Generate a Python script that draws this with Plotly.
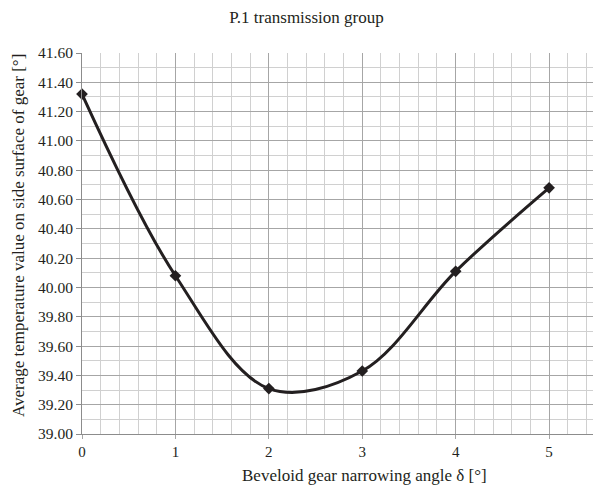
import plotly.graph_objects as go

x_vals = [0, 1, 2, 3, 4, 5]
temps = [41.32, 40.08, 39.31, 39.43, 40.11, 40.68]
y_ticks = [39.0, 39.2, 39.4, 39.6, 39.8, 40.0, 40.2, 40.4, 40.6, 40.8, 41.0, 41.2, 41.4, 41.6]
x_ticks = [0, 1, 2, 3, 4, 5]

font = "Liberation Serif"
txt = "#231f20"

W, H = 593, 485
L, R, T, B = 82, 0, 53, 51

fig = go.Figure()
fig.add_trace(go.Scatter(
    x=x_vals, y=temps, mode="lines+markers",
    line=dict(color=txt, width=3, shape="spline", smoothing=1.0),
    marker=dict(symbol="diamond", size=9, color=txt),
    showlegend=False, cliponaxis=False, hoverinfo="skip",
))

fig.update_layout(
    width=W, height=H,
    margin=dict(l=L, r=R, t=T, b=B),
    paper_bgcolor="white", plot_bgcolor="white",
    font=dict(family=font, color=txt),
    title=dict(text="P.1 transmission group", x=306.5 / W, xanchor="center", xref="container",
               y=1 - 17 / H, yanchor="middle", yref="container",
               font=dict(size=17, family=font, color=txt)),
)
pw = W - L - R
ph = H - T - B
fig.add_annotation(
    text="Average temperature value on side surface of gear [°]",
    textangle=-90, xref="paper", yref="paper",
    x=(18 - L) / pw, y=(H - B - 236) / ph, xanchor="center", yanchor="middle",
    showarrow=False, font=dict(size=17, family=font, color=txt),
)
fig.add_annotation(
    text="Beveloid gear narrowing angle δ [°]",
    xref="paper", yref="paper",
    x=(364.5 - L) / pw, y=-(475 - (H - B)) / ph, xanchor="center", yanchor="middle",
    showarrow=False, font=dict(size=17, family=font, color=txt),
)
fig.update_xaxes(
    range=[0, 5.47], tickvals=x_ticks, ticktext=[str(v) for v in x_ticks],
    showgrid=True, gridcolor="#a6a6a6", gridwidth=1,
    minor=dict(dtick=0.2, tick0=0, showgrid=True, gridcolor="#d0d0d0", gridwidth=1),
    showline=True, linecolor="#8c8c8c", linewidth=1,
    ticks="outside", ticklen=4, tickcolor="#a6a6a6",
    zeroline=False, automargin=False,
    tickfont=dict(size=15, family=font, color=txt),
)
fig.update_yaxes(
    range=[39.0, 41.6], tickvals=y_ticks, ticktext=[f"{v:.2f}" for v in y_ticks],
    showgrid=True, gridcolor="#a6a6a6", gridwidth=1,
    minor=dict(dtick=0.1, tick0=39.0, showgrid=True, gridcolor="#d0d0d0", gridwidth=1),
    showline=True, linecolor="#8c8c8c", linewidth=1,
    ticks="outside", ticklen=5, tickcolor="#8c8c8c",
    zeroline=False, automargin=False,
    tickfont=dict(size=15.5, family=font, color=txt),
)

fig.write_html(
    "out.html",
    config={"displayModeBar": False},
    post_script="document.body.style.margin='0';document.body.style.overflow='hidden';",
)
